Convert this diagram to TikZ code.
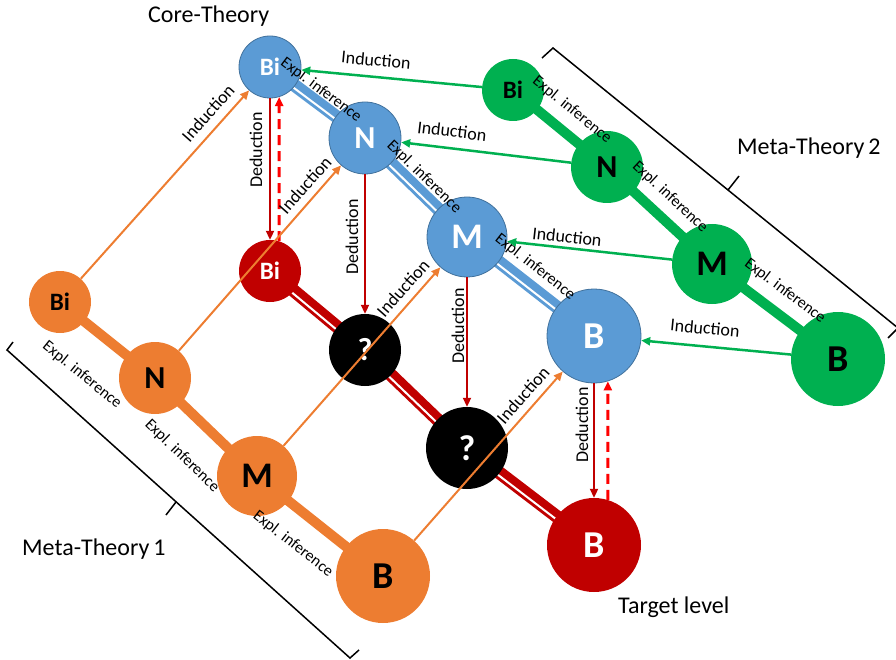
\documentclass[tikz,border=0pt]{standalone}
\usepackage{fontspec}
\setmainfont{Carlito}
\usetikzlibrary{arrows.meta,calc,backgrounds}
\definecolor{cblue}{HTML}{5B9BD5}
\definecolor{cblueD}{HTML}{41719C}
\definecolor{corange}{HTML}{ED7D31}
\definecolor{cgreen}{HTML}{00B050}
\definecolor{cdred}{HTML}{C00000}
\definecolor{cred}{HTML}{FF0000}
\newcommand\dband[3]{%
  \draw[line width=13pt,#1] (#2.center) -- (#3.center);
  \draw[line width=2pt,white] ($(#2.center)!2.5pt!-90:(#3.center)$) -- ($(#3.center)!2.5pt!90:(#2.center)$);}
\tikzset{
  circ/.style={circle,inner sep=0pt},
  bl/.style={circ,fill=cblue,draw=cblueD,line width=0.8pt,text=white},
  rd/.style={circ,fill=cdred,text=white},
  bk/.style={circ,fill=black,text=white},
  og/.style={circ,fill=corange,text=black},
  gr/.style={circ,fill=cgreen,text=black},
  sizeBi/.style={minimum size=62pt,font=\bfseries\fontsize{25}{25}\selectfont},
  sizeN/.style={minimum size=72pt,font=\bfseries\fontsize{32}{32}\selectfont},
  sizeM/.style={minimum size=80pt,font=\bfseries\fontsize{36}{36}\selectfont},
  sizeB/.style={minimum size=94pt,font=\bfseries\fontsize{38}{38}\selectfont},
  tipA/.style={-{Triangle[length=9pt,width=8pt]}},
  indO/.style={draw=corange,line width=2pt,tipA},
  indG/.style={draw=cgreen,line width=2.5pt,tipA},
  ded/.style={draw=cdred,line width=2pt,tipA},
  dsh/.style={draw=cred,line width=3pt,dash pattern=on 10pt off 6pt,tipA},
  lab/.style={font=\fontsize{18}{18}\selectfont,inner sep=0pt},
  expl/.style={font=\fontsize{16}{16}\selectfont,inner sep=0pt},
  ttl/.style={font=\fontsize{24}{24}\selectfont,inner sep=0pt},
  brk/.style={draw=black,line width=1.5pt}
}
\begin{document}
\begin{tikzpicture}[x=1pt,y=-1pt]
\useasboundingbox (0,0) rectangle (896,660);
% nodes
\node[bl,sizeBi] (bBi) at (270,67) {Bi};
\node[bl,sizeN] (bN) at (365,138) {N};
\node[bl,sizeM] (bM) at (467,237) {M};
\node[bl,sizeB] (bB) at (594,336) {B};
\node[rd,sizeBi] (rBi) at (270,271) {Bi};
\node[bk,sizeN] (q1) at (365,350) {?};
\node[bk,sizeM,minimum size=82pt] (q2) at (467,448) {?};
\node[rd,sizeB] (rB) at (594,545) {B};
\node[og,sizeBi] (oBi) at (60,302) {Bi};
\node[og,sizeN] (oN) at (155,378) {N};
\node[og,sizeM] (oM) at (257,476) {M};
\node[og,sizeB] (oB) at (383,576) {B};
\node[gr,sizeBi] (gBi) at (513,90) {Bi};
\node[gr,sizeN] (gN) at (607,167) {N};
\node[gr,sizeM] (gM) at (712,264) {M};
\node[gr,sizeB] (gB) at (838,359) {B};
% chains
\begin{scope}[on background layer]
\dband{cblue}{bBi}{bN}
\dband{cblue}{bN}{bM}
\dband{cblue}{bM}{bB}
\dband{cdred}{rBi}{q1}
\dband{cdred}{q1}{q2}
\dband{cdred}{q2}{rB}
\draw[line width=10pt,corange] (oBi.center) -- (oN.center) -- (oM.center) -- (oB.center);
\draw[line width=10pt,cgreen] (gBi.center) -- (gN.center) -- (gM.center) -- (gB.center);
\end{scope}
% expl. inference labels
\node[expl,rotate=-37] (e1) at (321,90) {Expl. inference};
\node[expl,rotate=-44] (e2) at (424,177) {Expl. inference};
\node[expl,rotate=-38] (e3) at (535,267) {Expl. inference};
\node[expl,rotate=-39] (e4) at (572,110) {Expl. inference};
\node[expl,rotate=-43] (e5) at (670,197) {Expl. inference};
\node[expl,rotate=-37] (e6) at (785,291) {Expl. inference};
\node[expl,rotate=-39] (e7) at (82,375) {Expl. inference};
\node[expl,rotate=-44] (e8) at (182,456) {Expl. inference};
\node[expl,rotate=-38] (e9) at (293,544) {Expl. inference};
% deduction
\draw[ded] (bBi) -- (rBi);
\draw[ded] (bN) -- (q1);
\draw[ded] (bM) -- (q2);
\draw[ded] (bB) -- (rB);
\draw[dsh] (rBi.73) -- (bBi.-73);
\draw[dsh] (rB.73) -- (bB.-73);
\node[lab,rotate=90] (d1) at (256,150) {Deduction};
\node[lab,rotate=90] (d2) at (352,237) {Deduction};
\node[lab,rotate=90] (d3) at (458,326) {Deduction};
\node[lab,rotate=90] (d4) at (582,425) {Deduction};
% induction orange
\draw[indO] (oBi) -- (bBi);
\draw[indO] (oN) -- (bN);
\draw[indO] (oM) -- (bM);
\draw[indO] (oB) -- (bB);
\node[lab,rotate=48.5] (i1) at (208,113) {Induction};
\node[lab,rotate=48.5] (i2) at (305,185) {Induction};
\node[lab,rotate=48.5] (i3) at (403,288) {Induction};
\node[lab,rotate=48.5] (i4) at (523,395) {Induction};
% induction green
\draw[indG] (gBi) -- (bBi);
\draw[indG] (gN) -- (bN);
\draw[indG] (gM) -- (bM);
\draw[indG] (gB) -- (bB);
\node[lab,rotate=-5.4] (i5) at (376,60) {Induction};
\node[lab,rotate=-6.8] (i6) at (452,131) {Induction};
\node[lab,rotate=-6.3] (i7) at (567,237) {Induction};
\node[lab,rotate=-5.4] (i8) at (705,328) {Induction};
% brackets
\draw[brk] (542,58) -- (553,48) -- (898,328) -- (888,338);
\draw[brk] (728,190) -- (739,176);
\draw[brk] (13,342) -- (7,350) -- (350,658) -- (359,650);
\draw[brk] (176,502) -- (166,515);
% titles
\node[ttl,anchor=base west] (t1) at (148,23) {Core-Theory};
\node[ttl,anchor=base west] (t2) at (737,155) {Meta-Theory\,2};
\node[ttl,anchor=base west] (t3) at (22,555) {Meta-Theory\,1};
\node[ttl,anchor=base west] (t4) at (618,613) {Target level};
\end{tikzpicture}
\end{document}
